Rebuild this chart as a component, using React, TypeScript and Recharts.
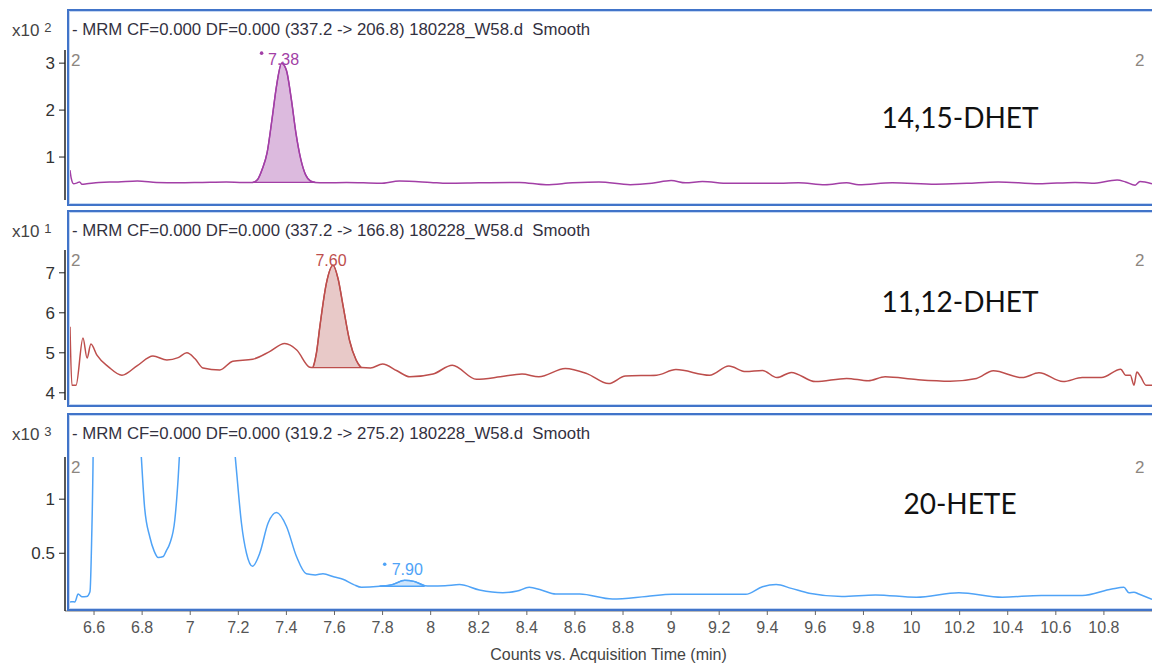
import React from 'react';
import { ComposedChart, Line, Area, XAxis, YAxis, ReferenceDot } from 'recharts';

// retention time ticks (min)
const timeTicks = [6.6, 6.8, 7, 7.2, 7.4, 7.6, 7.8, 8, 8.2, 8.4, 8.6, 8.8, 9, 9.2, 9.4, 9.6, 9.8, 10, 10.2, 10.4, 10.6, 10.8];

// 14,15-DHET  (x10^2 counts)
const dhet1415Time = [
  6.5, 6.505, 6.515, 6.53, 6.54, 6.55, 6.57, 6.62, 6.7, 6.78, 6.86, 6.95, 7.05, 7.15, 7.22, 7.26,
  7.28, 7.3, 7.32, 7.34, 7.36, 7.38, 7.4, 7.42, 7.44, 7.46, 7.48, 7.5, 7.52, 7.56, 7.65, 7.79,
  7.87, 8.0, 8.07, 8.2, 8.37, 8.48, 8.59, 8.7, 8.83, 8.92, 9.0, 9.06, 9.13, 9.24, 9.37, 9.45,
  9.53, 9.64, 9.73, 9.78, 9.92, 10.1, 10.23, 10.36, 10.53, 10.68, 10.75, 10.855, 10.89, 10.93,
  10.95, 11.0,
];
const dhet1415Counts = [
  0.72, 0.55, 0.43, 0.45, 0.47, 0.42, 0.43, 0.46, 0.47, 0.49, 0.46, 0.45, 0.46, 0.47, 0.46, 0.46,
  0.52, 0.75, 1.1, 1.8, 2.55, 3.0, 2.85, 2.25, 1.5, 0.95, 0.62, 0.49, 0.46, 0.45, 0.46, 0.44,
  0.49, 0.46, 0.44, 0.45, 0.46, 0.41, 0.45, 0.47, 0.41, 0.44, 0.5, 0.45, 0.48, 0.44, 0.44, 0.44,
  0.45, 0.41, 0.45, 0.41, 0.45, 0.42, 0.44, 0.47, 0.43, 0.46, 0.44, 0.51, 0.47, 0.4,
  0.48, 0.43,
];

// 11,12-DHET  (x10^1 counts)
const dhet1112Time = [
  6.5, 6.508, 6.525, 6.554, 6.571, 6.587, 6.612, 6.66, 6.716, 6.78, 6.845, 6.903, 6.95, 6.986,
  7.02, 7.053, 7.123, 7.177, 7.26, 7.33, 7.393, 7.443, 7.497, 7.51, 7.525, 7.539, 7.566, 7.594,
  7.615, 7.635, 7.663, 7.69, 7.712, 7.75, 7.8, 7.86, 7.913, 8.01, 8.09, 8.19, 8.29, 8.38, 8.45,
  8.56, 8.65, 8.74, 8.81, 8.94, 9.02, 9.16, 9.24, 9.31, 9.38, 9.44, 9.5, 9.6, 9.73, 9.82, 9.89,
  10.02, 10.16, 10.27, 10.34, 10.46, 10.53, 10.63, 10.71, 10.79, 10.87, 10.89, 10.91, 10.925,
  10.937, 10.953, 10.975, 11.0,
];
const dhet1112Counts = [
  5.65, 4.19, 4.19, 5.37, 4.87, 5.22, 4.94, 4.65, 4.44, 4.68, 4.92, 4.82, 4.88, 5.0,
  4.85, 4.62, 4.57, 4.79, 4.84, 5.03, 5.23, 5.07, 4.64, 4.63, 5.0, 5.65, 6.73, 7.19,
  6.85, 6.2, 5.3, 4.82, 4.63, 4.62, 4.72, 4.55, 4.4, 4.47, 4.69, 4.34, 4.4, 4.47, 4.4,
  4.61, 4.48, 4.23, 4.42, 4.44, 4.58, 4.44, 4.67, 4.53, 4.56, 4.38, 4.51, 4.28, 4.36, 4.3, 4.4,
  4.33, 4.29, 4.36, 4.55, 4.38, 4.5, 4.28, 4.38, 4.38, 4.59, 4.44, 4.44, 4.19,
  4.52, 4.4, 4.19, 4.19,
];

// 20-HETE  (x10^3 counts)
const hete20Time = [
  6.5, 6.507, 6.52, 6.534, 6.549, 6.569, 6.583, 6.59, 6.597, 6.6, 6.7, 6.78, 6.795, 6.81, 6.832,
  6.85, 6.867, 6.888, 6.9, 6.915, 6.936, 6.95, 6.96, 7.0, 7.08, 7.15, 7.18, 7.195, 7.213, 7.234,
  7.259, 7.289, 7.324, 7.359, 7.4, 7.442, 7.483, 7.52, 7.552, 7.6, 7.635, 7.68, 7.712, 7.788,
  7.84, 7.892, 7.93, 7.975, 8.0, 8.06, 8.12, 8.203, 8.3, 8.36, 8.41, 8.46, 8.52, 8.62, 8.756, 8.897,
  9.005, 9.17, 9.31, 9.38, 9.437, 9.5, 9.574, 9.71, 9.85, 10.02, 10.197, 10.377, 10.54, 10.71,
  10.833, 10.883, 10.904, 10.925, 10.945, 11.0,
];
const hete20Counts = [
  0.05, 0.052, 0.05, 0.123, 0.098, 0.1, 0.145, 0.62, 1.6, 2.5, 5.0, 2.0, 1.45, 0.93, 0.65,
  0.52, 0.46, 0.47, 0.52, 0.59, 0.81, 1.2, 1.6, 3.5, 6.0, 3.0, 1.6, 1.2, 0.78, 0.5,
  0.38, 0.5, 0.78, 0.876, 0.75, 0.47, 0.31, 0.3, 0.31, 0.28, 0.26, 0.21, 0.185, 0.195,
  0.21, 0.25, 0.24, 0.2, 0.197, 0.2, 0.21, 0.16, 0.135, 0.15, 0.185, 0.16, 0.123, 0.123, 0.077, 0.1,
  0.12, 0.12, 0.12, 0.19, 0.21, 0.175, 0.13, 0.1, 0.115, 0.093, 0.135, 0.093, 0.11, 0.11,
  0.17, 0.185, 0.135, 0.14, 0.123, 0.075,
];

const FONT = '"Liberation Sans", Arial, sans-serif';

const toPoints = (ts: number[], vs: number[]) => ts.map((t, i) => ({ t, v: vs[i] }));
const peakArea = (pts: { t: number; v: number }[], from: number, to: number, base: number) =>
  pts.filter((p) => p.t >= from - 1e-9 && p.t <= to + 1e-9).map((p) => ({ t: p.t, range: [base, p.v] }));

const panels = [
  {
    top: 0, height: 205, marginTop: 50, marginBottom: 5, showX: false,
    frameTop: 9, frameHeight: 197,
    header: '- MRM CF=0.000 DF=0.000 (337.2 -> 206.8) 180228_W58.d  Smooth', exp: '2',
    name: '14,15-DHET', nameY: 117,
    points: toPoints(dhet1415Time, dhet1415Counts),
    peak: { from: 7.26, to: 7.52, base: 0.46, t: 7.38, v: 3.0, label: '7.38', star: true, dx: 2, dy: 2 },
    color: '#a23fa6', fill: '#dcbade',
    domain: [0.085, 3.28], ticks: [1, 2, 3],
  },
  {
    top: 200, height: 205, marginTop: 50, marginBottom: 5, showX: false,
    frameTop: 210, frameHeight: 197,
    header: '- MRM CF=0.000 DF=0.000 (337.2 -> 166.8) 180228_W58.d  Smooth', exp: '1',
    name: '11,12-DHET', nameY: 301,
    points: toPoints(dhet1112Time, dhet1112Counts),
    peak: { from: 7.51, to: 7.712, base: 4.63, t: 7.594, v: 7.19, label: '7.60', star: false, dx: -2, dy: 1 },
    color: '#bd4e4c', fill: '#e8c9c8',
    domain: [3.82, 7.57], ticks: [4, 5, 6, 7],
  },
  {
    top: 400, height: 268, marginTop: 57, marginBottom: 0, showX: true,
    frameTop: 413, frameHeight: 198,
    header: '- MRM CF=0.000 DF=0.000 (319.2 -> 275.2) 180228_W58.d  Smooth', exp: '3',
    name: '20-HETE', nameY: 503,
    points: toPoints(hete20Time, hete20Counts),
    peak: { from: 7.788, to: 7.975, base: 0.195, t: 7.892, v: 0.25, label: '7.90', star: true, dx: 5, dy: -5 },
    color: '#4fa3f7', fill: '#cfe5fb',
    domain: [-0.034, 1.39], ticks: [0.5, 1],
  },
];

const fmtTime = (v: number) => String(Number(v.toFixed(1)));

function Panel({ p }: { p: (typeof panels)[number] }) {
  const peakData = peakArea(p.points, p.peak.from, p.peak.to, p.peak.base);
  const plotTop = p.top + p.marginTop;
  return (
    <>
      <div style={{ position: 'absolute', left: 0, top: p.top, width: 1152, height: p.height }}>
        <ComposedChart width={1152} height={p.height} margin={{ top: p.marginTop, right: 0, bottom: p.marginBottom, left: 0 }}>
          <XAxis
            type="number"
            dataKey="t"
            domain={[6.5, 11]}
            ticks={timeTicks}
            allowDataOverflow
            padding={{ left: 5, right: 0 }}
            hide={!p.showX}
            height={57}
            tickFormatter={fmtTime}
            tick={{ fill: '#555', fontSize: 16, fontFamily: FONT }}
            tickLine={{ stroke: '#666' }}
            tickSize={4}
            tickMargin={7}
            axisLine={{ stroke: '#777' }}
            interval={0}
            label={{ value: 'Counts vs. Acquisition Time (min)', position: 'insideBottom', offset: 8, fill: '#444', fontSize: 16, fontFamily: FONT }}
          />
          <YAxis
            type="number"
            domain={p.domain}
            ticks={p.ticks}
            allowDataOverflow
            width={65}
            tick={{ fill: '#333', fontSize: 17, fontFamily: FONT }}
            tickLine={{ stroke: '#222' }}
            tickSize={6}
            tickMargin={4}
            axisLine={{ stroke: '#222', strokeWidth: 1.5 }}
            interval={0}
          />
          <Area
            data={peakData}
            dataKey="range"
            type="monotone"
            stroke={p.color}
            strokeWidth={1.3}
            fill={p.fill}
            fillOpacity={1}
            isAnimationActive={false}
          />
          <Line
            data={p.points}
            dataKey="v"
            type="monotone"
            stroke={p.color}
            strokeWidth={1.5}
            dot={false}
            isAnimationActive={false}
          />
          <ReferenceDot
            x={p.peak.t}
            y={p.peak.v}
            r={0}
            shape={(s: any) => (
              <g>
                {p.peak.star && <circle cx={s.cx - 20} cy={s.cy - 10 + (p.peak.dy < 0 ? -6 : 0)} r={1.8} fill={p.color} />}
                <text
                  x={s.cx + p.peak.dx}
                  y={s.cy + p.peak.dy}
                  textAnchor={p.peak.dx > 3 ? 'start' : 'middle'}
                  fill={p.color}
                  fontSize={16}
                  fontFamily={FONT}
                  dx={p.peak.dx > 3 ? -18 : 0}
                >
                  {p.peak.label}
                </text>
              </g>
            )}
          />
        </ComposedChart>
      </div>
      {/* panel frame */}
      <div
        style={{
          position: 'absolute', left: 67, top: p.frameTop, width: 1120, height: p.frameHeight - 4,
          border: '2px solid #4174c9', boxShadow: 'inset 0 0 0 1px #c4d6f2', pointerEvents: 'none',
        }}
      />
      <div style={{ position: 'absolute', left: 12, top: p.frameTop + 11, fontFamily: FONT, fontSize: 17, color: '#444', whiteSpace: 'pre' }}>
        x10 <span style={{ fontSize: 13, verticalAlign: 4 }}>{p.exp}</span>
      </div>
      <div style={{ position: 'absolute', left: 72, top: p.frameTop + 11, fontFamily: FONT, fontSize: 16.8, color: '#33313f', whiteSpace: 'pre' }}>
        {p.header}
      </div>
      <div style={{ position: 'absolute', left: 71, top: plotTop + 1, fontFamily: FONT, fontSize: 17, color: '#8c8680' }}>2</div>
      <div style={{ position: 'absolute', left: 1135, top: plotTop + 1, fontFamily: FONT, fontSize: 17, color: '#8c8680' }}>2</div>
      <div
        style={{
          position: 'absolute', left: 860, width: 200, top: p.nameY - 18, textAlign: 'center',
          fontFamily: 'Lato, "Open Sans", sans-serif', fontSize: 28, color: '#111', lineHeight: '36px',
        }}
      >
        {p.name}
      </div>
    </>
  );
}

export default function App() {
  return (
    <div style={{ position: 'absolute', left: 0, top: 0, width: 1152, height: 668, overflow: 'hidden', background: '#fff' }}>
      {panels.map((p) => (
        <Panel key={p.name} p={p} />
      ))}
    </div>
  );
}
